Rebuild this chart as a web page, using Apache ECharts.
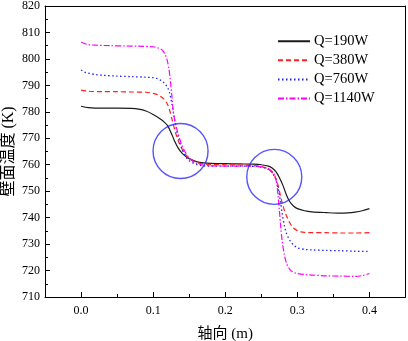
<!DOCTYPE html>
<html>
<head>
<meta charset="utf-8">
<script src="https://cdn.jsdelivr.net/npm/echarts@6/dist/echarts.min.js"></script>
<style>html,body{margin:0;padding:0;background:#fff}#c{width:408px;height:341px}</style>
</head>
<body>
<div id="c"></div>
<script>
const seriesNames = ['Q=190W', 'Q=380W', 'Q=760W', 'Q=1140W'];
const xTickLabels = [0, 0.1, 0.2, 0.3, 0.4];
const xMinorTicks = [0.05, 0.15, 0.25, 0.35];

const x190 = [0, 0.01, 0.03, 0.05, 0.07, 0.08, 0.09, 0.1, 0.11, 0.115, 0.12, 0.125, 0.13, 0.135, 0.14, 0.145, 0.15, 0.16, 0.17, 0.18, 0.2, 0.22, 0.24, 0.25, 0.26, 0.265, 0.27, 0.275, 0.28, 0.285, 0.29, 0.295, 0.3, 0.31, 0.32, 0.34, 0.36, 0.37, 0.38, 0.39, 0.4];
const y190 = [782.1, 781.6, 781.4, 781.4, 781.3, 781.0, 780.3, 779.0, 777.3, 776.2, 774.8, 772.0, 768.8, 766.2, 764.4, 763.2, 762.3, 761.2, 760.7, 760.5, 760.4, 760.3, 760.2, 760.0, 759.5, 758.8, 757.5, 755.2, 752.2, 748.5, 745.8, 744.3, 743.4, 742.6, 742.2, 741.9, 741.7, 741.8, 742.1, 742.6, 743.4];

const x380 = [0, 0.01, 0.03, 0.05, 0.07, 0.09, 0.1, 0.105, 0.11, 0.115, 0.12, 0.123, 0.126, 0.129, 0.132, 0.135, 0.14, 0.145, 0.15, 0.16, 0.17, 0.18, 0.2, 0.22, 0.24, 0.25, 0.255, 0.26, 0.265, 0.27, 0.273, 0.276, 0.279, 0.282, 0.285, 0.29, 0.295, 0.3, 0.305, 0.31, 0.32, 0.34, 0.36, 0.38, 0.4];
const y380 = [788.2, 787.8, 787.6, 787.6, 787.5, 787.4, 787.0, 786.6, 785.9, 784.8, 782.8, 780.5, 777.3, 774.2, 771.3, 769.0, 766.0, 763.8, 762.3, 760.9, 760.3, 760.1, 760.0, 759.9, 759.7, 759.3, 758.9, 758.3, 757.2, 755.0, 752.5, 749.0, 745.5, 742.8, 740.6, 737.8, 736.0, 735.1, 734.6, 734.4, 734.3, 734.3, 734.2, 734.2, 734.3];

const x760 = [0, 0.005, 0.01, 0.02, 0.03, 0.05, 0.07, 0.09, 0.1, 0.105, 0.11, 0.115, 0.12, 0.123, 0.126, 0.129, 0.132, 0.135, 0.14, 0.145, 0.15, 0.16, 0.17, 0.18, 0.2, 0.22, 0.24, 0.25, 0.255, 0.26, 0.265, 0.27, 0.273, 0.276, 0.279, 0.282, 0.285, 0.29, 0.295, 0.3, 0.31, 0.32, 0.34, 0.36, 0.38, 0.4];
const y760 = [795.8, 795.0, 794.6, 794.1, 793.8, 793.5, 793.3, 793.1, 792.9, 792.6, 792.0, 791.0, 789.2, 787.0, 783.0, 778.2, 773.8, 770.2, 766.0, 763.2, 761.5, 760.1, 759.6, 759.5, 759.5, 759.5, 759.4, 759.1, 758.8, 758.2, 757.0, 754.5, 751.5, 747.0, 741.5, 737.0, 734.0, 731.2, 729.6, 728.6, 728.0, 727.8, 727.6, 727.5, 727.3, 727.2];

const x1140 = [0, 0.005, 0.01, 0.02, 0.04, 0.06, 0.08, 0.1, 0.105, 0.11, 0.113, 0.116, 0.119, 0.122, 0.124, 0.126, 0.128, 0.131, 0.134, 0.137, 0.14, 0.145, 0.15, 0.155, 0.16, 0.17, 0.18, 0.2, 0.22, 0.24, 0.25, 0.255, 0.26, 0.265, 0.268, 0.271, 0.273, 0.275, 0.277, 0.279, 0.282, 0.285, 0.29, 0.295, 0.3, 0.31, 0.32, 0.34, 0.36, 0.38, 0.39, 0.4];
const y1140 = [806.3, 805.8, 805.4, 805.2, 805.0, 804.9, 804.8, 804.6, 804.3, 803.8, 803.2, 802.0, 800.0, 796.0, 791.5, 786.0, 780.0, 775.5, 772.3, 769.6, 767.3, 764.5, 762.5, 761.3, 760.5, 759.8, 759.6, 759.5, 759.5, 759.4, 759.2, 759.0, 758.5, 757.5, 756.3, 753.5, 749.0, 743.0, 736.5, 731.0, 726.0, 722.7, 720.3, 719.3, 718.9, 718.5, 718.3, 718.0, 717.9, 717.8, 718.1, 718.9];

const circleCenters = [[0.138, 765.2], [0.268, 755.4]];

const zip = (xs, ys) => xs.map((x, i) => [x, ys[i]]);
const FONT = '"Liberation Serif", "Noto Sans CJK SC", serif';

const chart = echarts.init(document.getElementById('c'), null, {renderer: 'canvas'});
const lineSeries = (name, xs, ys, color, type, width) => ({
  name, type: 'line', data: zip(xs, ys), showSymbol: false, symbol: 'none',
  smooth: 0.3, xAxisIndex: 0, yAxisIndex: 0,
  lineStyle: {color, width, type}, itemStyle: {color}, z: 3
});

chart.setOption({
  animation: false,
  backgroundColor: '#fff',
  grid: {left: 45, right: 2.5, top: 6, bottom: 44, containLabel: false, outerBoundsMode: 'none'},
  legend: {
    data: seriesNames, orient: 'vertical', left: 272, top: 29,
    itemWidth: 32, itemHeight: 14, itemGap: 4.6,
    itemStyle: {opacity: 0},
    textStyle: {fontFamily: FONT, fontSize: 14.5, color: '#000', padding: [0, 0, 0, -1]}
  },
  xAxis: [{
    type: 'value', min: -0.05, max: 0.45, interval: 0.05, position: 'bottom',
    axisLine: {show: true, onZero: false, lineStyle: {color: '#000', width: 1}},
    axisTick: {show: true, inside: true, length: 5, customValues: xTickLabels, lineStyle: {color: '#000'}},
    axisLabel: {customValues: xTickLabels, formatter: v => v.toFixed(1), fontFamily: FONT, fontSize: 12, color: '#000', margin: 8},
    splitLine: {show: false},
    name: '轴向 (m)', nameLocation: 'middle', nameGap: 30, nameMoveOverlap: false,
    nameTextStyle: {fontFamily: FONT, fontSize: 15, color: '#000'}
  }, {
    type: 'value', min: -0.05, max: 0.45, interval: 0.05, position: 'bottom', gridIndex: 0,
    axisLine: {show: false},
    axisTick: {show: true, inside: true, length: 3, customValues: xMinorTicks, lineStyle: {color: '#000'}},
    axisLabel: {show: false}, splitLine: {show: false}
  }, {
    type: 'value', min: -0.05, max: 0.45, position: 'top', gridIndex: 0,
    axisLine: {show: true, onZero: false, lineStyle: {color: '#000', width: 1}},
    axisTick: {show: false}, axisLabel: {show: false}, splitLine: {show: false}
  }],
  yAxis: [{
    type: 'value', min: 710, max: 820, interval: 10, position: 'left',
    axisLine: {show: true, onZero: false, lineStyle: {color: '#000', width: 1}},
    axisTick: {show: true, inside: true, length: 5, lineStyle: {color: '#000'}},
    minorTick: {show: true, splitNumber: 2, length: 3, lineStyle: {color: '#000'}},
    axisLabel: {fontFamily: FONT, fontSize: 12, color: '#000', margin: 5},
    splitLine: {show: false},
    name: '壁面温度 (K)', nameLocation: 'middle', nameGap: 28, nameMoveOverlap: false,
    nameTextStyle: {fontFamily: FONT, fontSize: 16, color: '#000'}
  }, {
    type: 'value', min: 710, max: 820, position: 'right',
    axisLine: {show: true, onZero: false, lineStyle: {color: '#000', width: 1}},
    axisTick: {show: false}, axisLabel: {show: false}, splitLine: {show: false}
  }],
  series: [
    lineSeries(seriesNames[0], x190, y190, '#1a1a1a', 'solid', 1.2),
    lineSeries(seriesNames[1], x380, y380, '#ff2020', [5, 3], 1.2),
    lineSeries(seriesNames[2], x760, y760, '#2020ff', [1.5, 2.5], 1.3),
    lineSeries(seriesNames[3], x1140, y1140, '#ff00ff', [6, 2, 1.5, 2], 1.2),
    {
      type: 'scatter', data: circleCenters, symbol: 'circle', symbolSize: 55,
      itemStyle: {color: 'rgba(0,0,0,0)', borderColor: '#2a2aff', borderWidth: 1.4},
      silent: true, z: 4, legendHoverLink: false
    }
  ]
});
</script>
</body>
</html>
